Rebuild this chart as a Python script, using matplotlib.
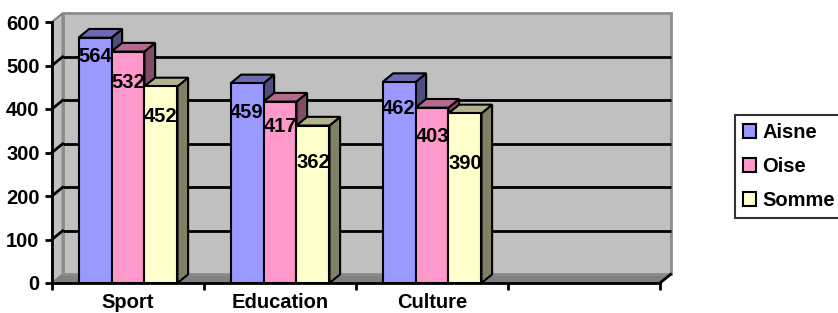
import matplotlib
matplotlib.use("Agg")
import matplotlib.pyplot as plt
from matplotlib.patches import Polygon, Rectangle, Patch

# data
categories = ["Sport", "Education", "Culture", ""]
aisne = [564, 459, 462]
oise = [532, 417, 403]
somme = [452, 362, 390]
series_names = ["Aisne", "Oise", "Somme"]

# how far below the top of each bar its label sits (value units)
aisne_drop = [44, 68, 60]
oise_drop = [72, 58, 67]
somme_drop = [70, 84, 116]

# face / top / side colours per series
face_cols = ["#9999FF", "#FF99CC", "#FFFFCC"]
top_cols = ["#6B6BB3", "#B36B8F", "#B3B38F"]
side_cols = ["#4D4D80", "#804D66", "#808066"]

plt.rcParams["font.family"] = ["Liberation Sans", "DejaVu Sans"]
plt.rcParams["font.weight"] = "bold"
FS = 14.5

fig = plt.figure(figsize=(8.38, 3.13), dpi=100)
ax = fig.add_axes([0, 0, 1, 1])
ax.set_facecolor("none")

# pixel mapping: x=0 -> 52px, 152px per slot; v=0 -> 283px, 0.435 px per unit
ax.set_xlim(-52 / 152, (838 - 52) / 152)
ax.set_ylim((283 - 313) / 0.435, 283 / 0.435)

n = len(categories)
ymax = 600
dx, dy = 0.07, 20
w = 0.217

# walls and floor
ax.add_patch(Polygon([(0, 0), (n, 0), (n + dx, dy), (dx, dy)],
                     fc="#808080", ec="#808080", lw=1, zorder=1))
ax.add_patch(Polygon([(0, 0), (dx, dy), (dx, ymax + dy), (0, ymax)],
                     fc="#C0C0C0", ec="#808080", lw=1.5, zorder=1))
ax.add_patch(Rectangle((dx, dy), n, ymax, fc="#C0C0C0", ec="#8C8C8C",
                       lw=2, zorder=1))

# gridlines on back and side walls
for v in range(100, ymax, 100):
    ax.plot([dx, n + dx], [v + dy, v + dy], color="black", lw=2, zorder=1.5,
            solid_capstyle="butt")
    ax.plot([0, dx], [v, v + dy], color="black", lw=2, zorder=1.5)
ax.plot([n, n + dx], [0, dy], color="black", lw=2, zorder=1.5)


def bar3d(x0, h, fc, tc, sc):
    ax.add_patch(Polygon([(x0 + w, 0), (x0 + w + dx, dy), (x0 + w + dx, h + dy), (x0 + w, h)],
                         fc=sc, ec="black", lw=1.5, zorder=3, joinstyle="miter"))
    ax.add_patch(Polygon([(x0, h), (x0 + w, h), (x0 + w + dx, h + dy), (x0 + dx, h + dy)],
                         fc=tc, ec="black", lw=1.5, zorder=3, joinstyle="miter"))
    ax.add_patch(Rectangle((x0, 0), w, h, fc=fc, ec="black", lw=1.5, zorder=3))


all_vals = [aisne, oise, somme]
all_drops = [aisne_drop, oise_drop, somme_drop]
for i in range(len(aisne)):
    center = i + 0.5
    for s in range(3):
        x0 = center + (s - 1.5) * w
        h = all_vals[s][i]
        bar3d(x0, h, face_cols[s], top_cols[s], side_cols[s])
        ax.text(x0 + w / 2, h - all_drops[s][i], str(h), ha="center", va="center",
                fontsize=FS, fontweight="bold", zorder=5)

# axes
for side in ["top", "right"]:
    ax.spines[side].set_visible(False)
ax.spines["left"].set_position(("data", 0))
ax.spines["left"].set_bounds(0, ymax)
ax.spines["bottom"].set_position(("data", 0))
ax.spines["bottom"].set_bounds(0, n)
for side in ["left", "bottom"]:
    ax.spines[side].set_linewidth(2)
    ax.spines[side].set_zorder(4)

ax.set_yticks(range(0, ymax + 1, 100))
ax.tick_params(axis="y", length=5, width=2, pad=4, labelsize=FS)
ax.set_xticks(range(n + 1))
ax.set_xticklabels([""] * (n + 1))
ax.set_xticks([i + 0.5 for i in range(n)], minor=True)
ax.set_xticklabels(categories, minor=True)
ax.tick_params(axis="x", which="major", length=5, width=2, direction="out")
ax.tick_params(axis="x", which="minor", length=0, pad=7.5, labelsize=FS)

# legend
handles = [Patch(fc=c, ec="black", lw=1.5) for c in face_cols]
leg = fig.legend(handles, series_names, loc="upper left",
                 bbox_to_anchor=(735 / 838, 1 - 115 / 313), fontsize=FS,
                 frameon=True, fancybox=False, edgecolor="black",
                 handlelength=0.65, handleheight=0.65, handletextpad=0.3,
                 borderpad=0.4, labelspacing=0.75, borderaxespad=0)
leg.get_frame().set_linewidth(1.5)

fig.savefig("out.png", dpi=100)
